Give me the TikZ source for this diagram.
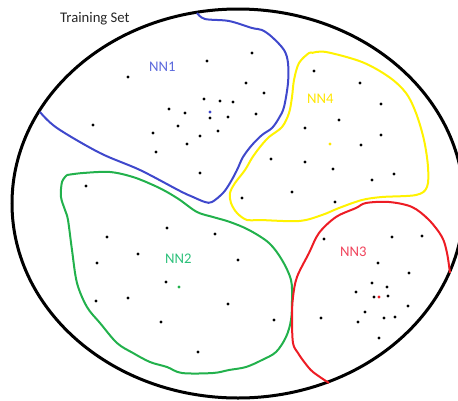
\documentclass[tikz,border=0pt]{standalone}
\usepackage{fontspec}
\setmainfont{Carlito}
\usepackage{xcolor}
\usepackage{tikz}
\definecolor{nnblue}{HTML}{3F48CC}
\definecolor{nngreen}{HTML}{22B14C}
\definecolor{nnyellow}{HTML}{FFF200}
\definecolor{nnred}{HTML}{ED1C24}
\definecolor{nnlabelblue}{HTML}{5A68DC}
\definecolor{nnlabelgreen}{HTML}{2CC07A}
\definecolor{nnlabelred}{HTML}{F0445C}
\definecolor{nnlabelyellow}{HTML}{FFE600}
\tikzset{
  region/.style={line width=2pt, line join=round, smooth, tension=0.55},
  nnlabel/.style={anchor=base west, inner sep=0pt, font=\fontsize{14.7}{17}\selectfont},
}

\begin{document}
\begin{tikzpicture}[x=1pt, y=-1pt]
  \useasboundingbox (0,0) rectangle (458,400);
  % training set
  \draw[line width=3pt] (238,203.5) ellipse [x radius=226, y radius=194.5];
  \node[nnlabel, text=black!85] (title) at (60,22) {Training Set};
  % NN1 region (blue)
  \draw[nnblue, region] plot coordinates {(40,112) (57,128) (100,153) (140,170)
    (180,191) (193,197) (205,202) (212,202) (223,193) (230,183) (237,170)
    (243,157) (252,145) (262,135) (272,128) (279,118) (284,107) (288,83)
    (288,63) (284,50) (272,37) (262,30) (252,28) (229,21) (205,19) (197,13)};
  % NN4 region (yellow)
  \draw[nnyellow, region] plot coordinates {(312,53) (326,52) (362,62) (389,77)
    (406,93) (416,113) (424,140) (428,167) (427,187) (416,195) (382,197)
    (362,200) (339,208) (322,215) (299,221) (260,220) (247,220) (237,213)
    (231,203) (230,193) (235,183) (245,170) (252,158) (260,147) (269,137)
    (282,127) (289,113) (292,97) (294,80) (299,63) (309,53) (312,53)};
  % NN2 region (green)
  \draw[nngreen, region] plot coordinates {(67,175) (83,173) (110,172) (133,177)
    (153,185) (167,192) (180,200) (197,212) (213,217) (230,222) (249,230)
    (269,243) (282,260) (291,280) (292,300) (291,320) (286,337) (276,352)
    (262,360) (246,367) (229,370) (213,373) (182,373) (167,367) (150,362)
    (133,353) (117,343) (100,323) (87,307) (77,283) (72,250) (68,220)
    (65,210) (61,197) (62,182) (67,175)};
  % NN3 region (red)
  \draw[nnred, region] plot coordinates {(329,383) (313,372) (305,363) (298,353)
    (293,343) (292,317) (293,297) (297,277) (309,253) (319,233) (336,217)
    (356,208) (366,203) (389,202) (412,207) (429,220) (442,237) (447,253)
    (450,273)};
  % samples
  \foreach \p in {(207,61),(128,77),(204,99),(220,101),(169,109),(185,113),
    (210,118),(228,117),(93,125),(178,126),(153,133),(200,136),(218,131),
    (187,144),(156,152),(200,173),(86,186),
    (252,53),(246,83),(264,93),(233,102),(256,114),(314,71),(360,83),
    (381,104),(339,120),(305,128),(361,145),(381,135),(271,159),(305,162),
    (333,169),(394,174),(372,180),(292,192),(242,198),
    (107,237),(167,228),(215,234),(138,254),(97,263),(166,282),(96,301),
    (128,298),(228,304),(161,322),(198,352),
    (335,202),(238,260),(274,320),(324,239),(392,237),(422,236),(378,263),
    (409,273),(372,283),(387,287),(356,292),(374,297),(388,296),(408,306),
    (365,312),(321,318),(358,322),(384,318),(395,317),(379,338)}
    \fill \p circle (1.7pt);
  % centres
  \fill[nnblue] (210,112) circle (1.6pt);
  \fill[nnyellow!90!orange] (330,144) circle (1.6pt);
  \fill[nngreen] (179,287) circle (1.6pt);
  \fill[nnred] (379,297) circle (1.6pt);
  % labels
  \node[nnlabel, text=nnlabelblue] (nn1) at (149,71) {NN1};
  \node[nnlabel, text=nnlabelyellow] (nn4) at (307,103) {NN4};
  \node[nnlabel, text=nnlabelgreen] (nn2) at (165,263) {NN2};
  \node[nnlabel, text=nnlabelred] (nn3) at (340,256) {NN3};
\end{tikzpicture}
\end{document}
